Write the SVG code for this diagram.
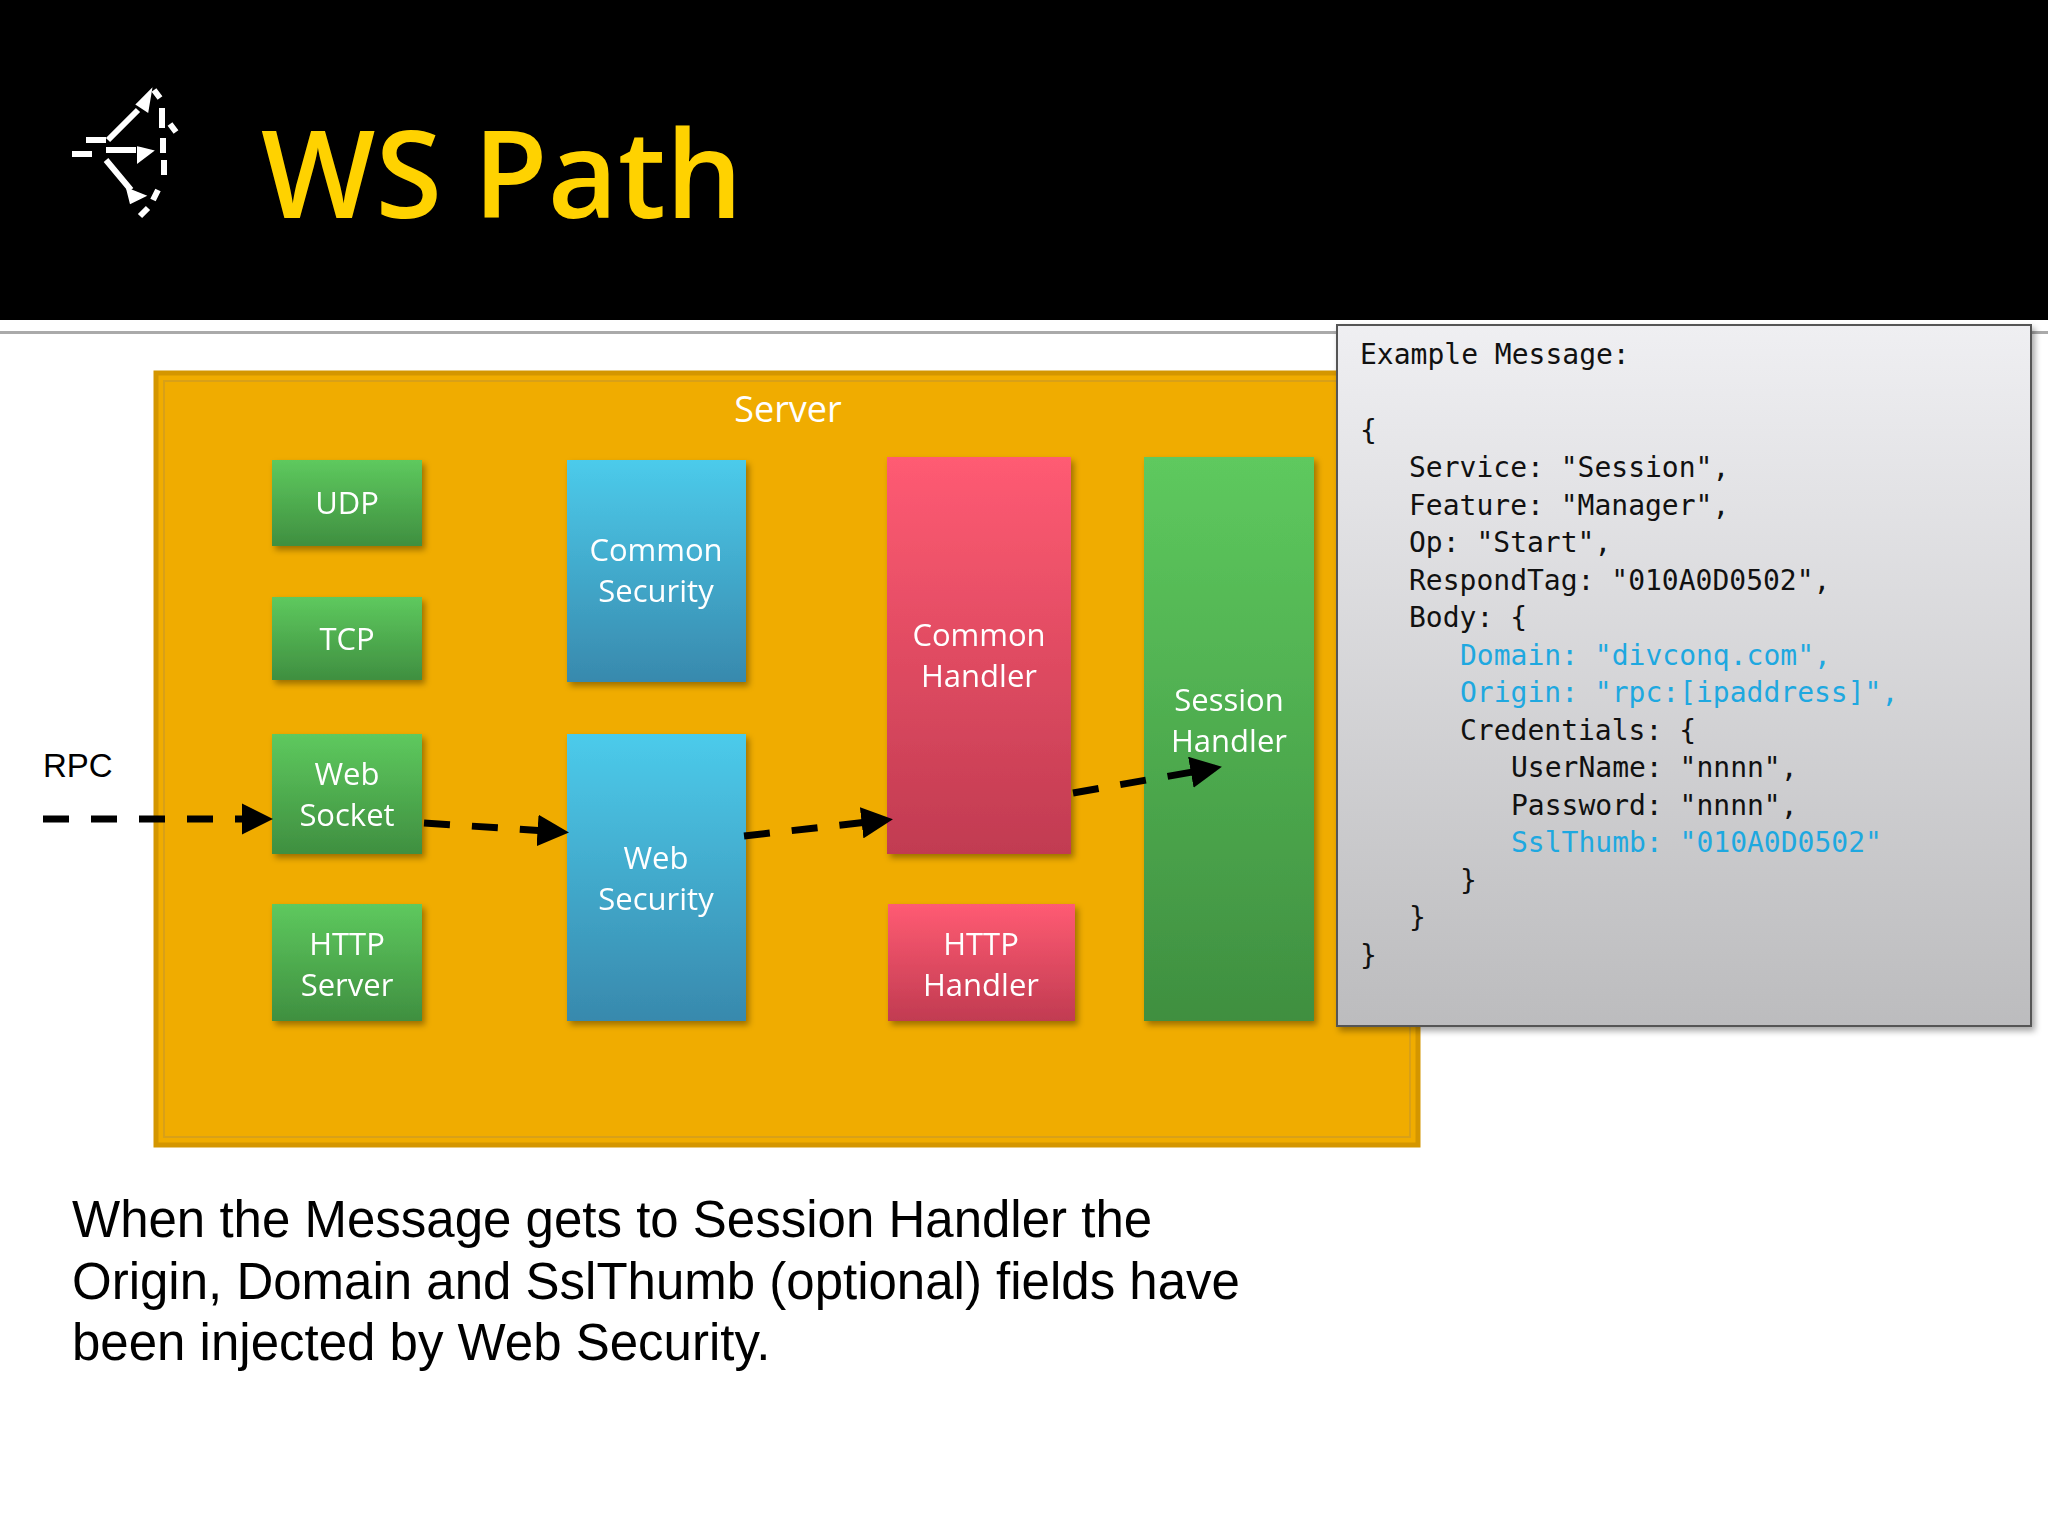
<svg xmlns="http://www.w3.org/2000/svg" width="2048" height="1536" viewBox="0 0 2048 1536">
<defs>
<linearGradient id="gG" x1="0" y1="0" x2="0" y2="1"><stop offset="0" stop-color="#5ec95e"/><stop offset="1" stop-color="#3f8f40"/></linearGradient>
<linearGradient id="gB" x1="0" y1="0" x2="0" y2="1"><stop offset="0" stop-color="#4ccbeb"/><stop offset="1" stop-color="#3889ad"/></linearGradient>
<linearGradient id="gR" x1="0" y1="0" x2="0" y2="1"><stop offset="0" stop-color="#ff5b73"/><stop offset="1" stop-color="#c13b51"/></linearGradient>
<linearGradient id="gC" x1="0" y1="0" x2="0" y2="1"><stop offset="0" stop-color="#efeff2"/><stop offset="1" stop-color="#bcbcbe"/></linearGradient>
<marker id="ah" markerWidth="4.5" markerHeight="4.5" refX="3.5" refY="2.25" orient="auto" markerUnits="strokeWidth"><path d="M0,0 L4.5,2.25 L0,4.5 z" fill="#000"/></marker>
<filter id="sh" x="-10%" y="-10%" width="130%" height="130%"><feDropShadow dx="3" dy="4" stdDeviation="3" flood-opacity="0.35"/></filter>
</defs>
<style>
.nt{font-family:"Open Sans","Noto Sans",sans-serif;font-size:31px;fill:#fff;text-anchor:middle}
.code{font-family:"DejaVu Sans Mono","Liberation Mono",monospace;font-size:28px;fill:#111;white-space:pre}
.hl{fill:#1ea8e0}
.con{fill:none;stroke:#000;stroke-width:7;stroke-dasharray:26 22;marker-end:url(#ah)}
</style>
<rect width="2048" height="1536" fill="#fff"/>
<rect width="2048" height="320" fill="#000"/>
<rect x="0" y="331" width="2048" height="3" fill="#aaa"/>
<g id="logo" stroke="#fff" stroke-width="6" fill="none">
<path d="M72,154 h20 M86,140 h20 M108,140 l30,-30 M106,150 h30 M106,160 l25,30 M160,98 l-6,-8 M162,108 v20 M163,138 v15 M164,160 v15 M158,190 l-5,10 M148,208 l-8,8 M170,124 l6,8"/>
<path d="M140,104 l8,-8 l-2,12 z M140,150 l8,2 l-8,6 z M130,192 l10,4 l-8,4 z" fill="#fff"/>
</g>
<text x="261" y="218" font-family="Open Sans, Noto Sans, sans-serif" font-weight="600" font-size="121" fill="#ffd200">WS Path</text>
<g id="server">
<rect x="156" y="373" width="1262" height="772" fill="#f0ac00" stroke="#d49600" stroke-width="5"/>
<rect x="164" y="381" width="1246" height="756" fill="none" stroke="#d8a018" stroke-width="2"/>
<text x="788" y="422" class="nt" style="font-size:36px">Server</text>
</g>
<g id="udp" filter="url(#sh)"><rect x="272" y="460" width="150" height="86" fill="url(#gG)"/><text class="nt" x="347" y="514">UDP</text></g>
<g id="tcp" filter="url(#sh)"><rect x="272" y="597" width="150" height="83" fill="url(#gG)"/><text class="nt" x="347" y="650">TCP</text></g>
<g id="websocket" filter="url(#sh)"><rect x="272" y="734" width="150" height="120" fill="url(#gG)"/><text class="nt" x="347" y="785">Web</text><text class="nt" x="347" y="826">Socket</text></g>
<g id="httpserver" filter="url(#sh)"><rect x="272" y="904" width="150" height="117" fill="url(#gG)"/><text class="nt" x="347" y="955">HTTP</text><text class="nt" x="347" y="996">Server</text></g>
<g id="commonsecurity" filter="url(#sh)"><rect x="567" y="460" width="179" height="222" fill="url(#gB)"/><text class="nt" x="656" y="561">Common</text><text class="nt" x="656" y="602">Security</text></g>
<g id="websecurity" filter="url(#sh)"><rect x="567" y="734" width="179" height="287" fill="url(#gB)"/><text class="nt" x="656" y="869">Web</text><text class="nt" x="656" y="910">Security</text></g>
<g id="commonhandler" filter="url(#sh)"><rect x="887" y="457" width="184" height="397" fill="url(#gR)"/><text class="nt" x="979" y="646">Common</text><text class="nt" x="979" y="687">Handler</text></g>
<g id="httphandler" filter="url(#sh)"><rect x="888" y="904" width="187" height="117" fill="url(#gR)"/><text class="nt" x="981" y="955">HTTP</text><text class="nt" x="981" y="996">Handler</text></g>
<g id="sessionhandler" filter="url(#sh)"><rect x="1144" y="457" width="170" height="564" fill="url(#gG)"/><text class="nt" x="1229" y="711">Session</text><text class="nt" x="1229" y="752">Handler</text></g>
<text x="43" y="777" font-family="Liberation Sans, Arial, sans-serif" font-size="33" fill="#000">RPC</text>
<g id="connectors">
<path class="con" d="M43,819 L266,819"/>
<path class="con" d="M424,823 L562,832"/>
<path class="con" d="M744,836 L886,820"/>
<path class="con" d="M1073,793 L1215,768"/>
</g>
<g id="message">
<rect x="1337" y="325" width="694" height="701" fill="url(#gC)" stroke="#555" stroke-width="2" filter="url(#sh)"/>
<text class="code" x="1360" y="364">Example Message:</text>
<text class="code" x="1360" y="440">{</text>
<text class="code" x="1409" y="477">Service: "Session",</text>
<text class="code" x="1409" y="515">Feature: "Manager",</text>
<text class="code" x="1409" y="552">Op: "Start",</text>
<text class="code" x="1409" y="590">RespondTag: "010A0D0502",</text>
<text class="code" x="1409" y="627">Body: {</text>
<text class="code hl" x="1460" y="665">Domain: "divconq.com",</text>
<text class="code hl" x="1460" y="702">Origin: "rpc:[ipaddress]",</text>
<text class="code" x="1460" y="740">Credentials: {</text>
<text class="code" x="1511" y="777">UserName: "nnnn",</text>
<text class="code" x="1511" y="815">Password: "nnnn",</text>
<text class="code hl" x="1511" y="852">SslThumb: "010A0D0502"</text>
<text class="code" x="1460" y="890">}</text>
<text class="code" x="1409" y="927">}</text>
<text class="code" x="1360" y="965">}</text>
</g>
<g font-family="Liberation Sans, Arial, sans-serif" font-size="51" fill="#000">
<text x="72" y="1237">When the Message gets to Session Handler the</text>
<text x="72" y="1299">Origin, Domain and SslThumb (optional) fields have</text>
<text x="72" y="1360">been injected by Web Security.</text>
</g>
</svg>
